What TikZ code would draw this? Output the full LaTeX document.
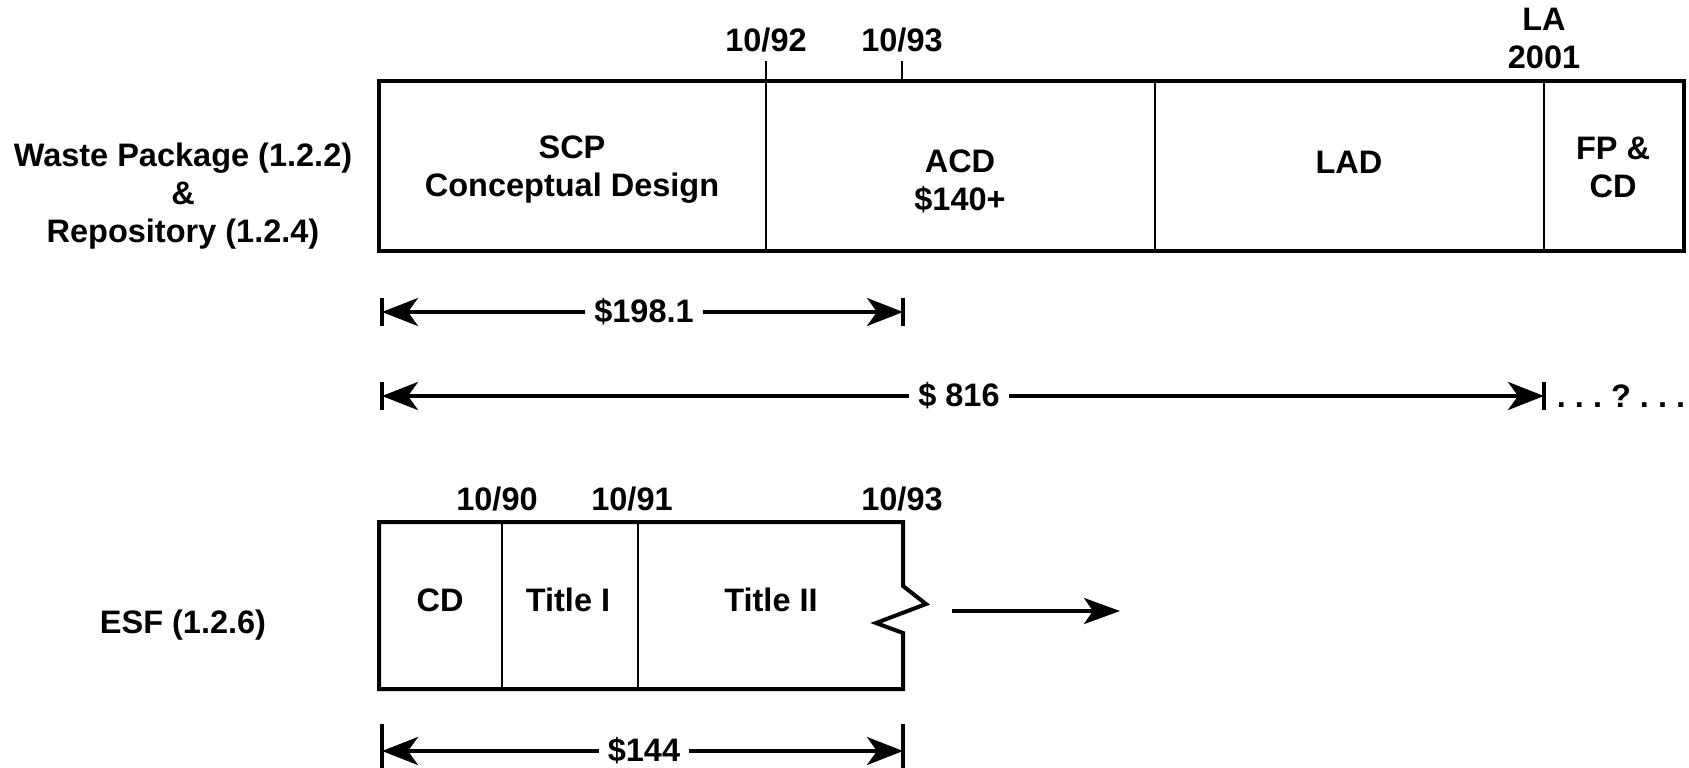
\documentclass[tikz,border=0pt]{standalone}
\usepackage{fontspec}
\setmainfont{Liberation Sans}
\usetikzlibrary{arrows.meta}
\begin{document}
\begin{tikzpicture}[x=1pt,y=-1pt,
  lbl/.style={font=\bfseries\fontsize{32.5}{38}\selectfont, align=center, inner sep=0pt},
  frame/.style={line width=4pt, line join=miter},
  divider/.style={line width=2pt},
  dim/.style={line width=4pt, -{Stealth[length=36pt,width=28pt,inset=10pt]}},
  tick/.style={line width=4pt}]
\useasboundingbox (0,0) rectangle (1689,768);

% ---- top row: Waste Package & Repository
\node[lbl] (wp) at (183,196) {Waste Package (1.2.2)\\\&\\Repository (1.2.4)};
\draw[frame] (379,81) rectangle (1684,251);
\draw[divider] (766,61) -- (766,251);
\draw[divider] (902,61) -- (902,81);
\draw[divider] (1155,81) -- (1155,251);
\draw[divider] (1544,81) -- (1544,251);
\node[lbl] (t92) at (766,40) {10/92};
\node[lbl] (t93) at (902,40) {10/93};
\node[lbl] (tla) at (1544,38) {LA\\2001};
\node[lbl] (scp) at (572,170) {SCP\\Conceptual Design};
\node[lbl] (acd) at (960,181) {ACD\\\$140+};
\node[lbl] (lad) at (1349,162) {LAD};
\node[lbl] (fp) at (1613,167) {FP \&\\CD};

% ---- dimension $198.1
\coordinate (a1l) at (382,312);
\coordinate (a1r) at (903,312);
\draw[tick] (382,298) -- (382,326);
\draw[tick] (903,298) -- (903,326);
\node[lbl] (d1) at (644,312) {\$198.1};
\draw[dim] ([xshift=-9pt]d1.west) -- (a1l);
\draw[dim] ([xshift=9pt]d1.east) -- (a1r);

% ---- dimension $816
\coordinate (a2l) at (382,396);
\coordinate (a2r) at (1544,396);
\draw[tick] (382,382) -- (382,410);
\draw[tick] (1544,382) -- (1544,410);
\node[lbl] (d2) at (959,396) {\$ 816};
\draw[dim] ([xshift=-9pt]d2.west) -- (a2l);
\draw[dim] ([xshift=9pt]d2.east) -- (a2r);
\node[lbl] (q) at (1621,396) {.\ .\ .\ ?\ .\ .\ .};

% ---- ESF row
\node[lbl] (esf) at (183,625) {ESF (1.2.6)};
\draw[frame] (379,522) -- (903,522) -- (903,586) -- (926,604) -- (876,623)
  -- (903,633) -- (903,689) -- (379,689) -- cycle;
\draw[divider] (502,522) -- (502,689);
\draw[divider] (638,522) -- (638,689);
\node[lbl] (t90) at (497,499) {10/90};
\node[lbl] (t91) at (632,499) {10/91};
\node[lbl] (t93b) at (902,499) {10/93};
\node[lbl] (cd) at (440,600) {CD};
\node[lbl] (ti) at (568,600) {Title I};
\node[lbl] (tii) at (771,600) {Title II};
\coordinate (ea) at (952,611);
\coordinate (eb) at (1120,611);
\draw[line width=4pt, -{Stealth[length=36pt,width=26pt,inset=9pt]}] (ea) -- (eb);

% ---- dimension $144
\coordinate (a3l) at (382,751);
\coordinate (a3r) at (903,751);
\draw[tick] (382,724) -- (382,768);
\draw[tick] (903,724) -- (903,768);
\node[lbl] (d3) at (644,751) {\$144};
\draw[dim] ([xshift=-9pt]d3.west) -- (a3l);
\draw[dim] ([xshift=9pt]d3.east) -- (a3r);
\end{tikzpicture}
\end{document}
